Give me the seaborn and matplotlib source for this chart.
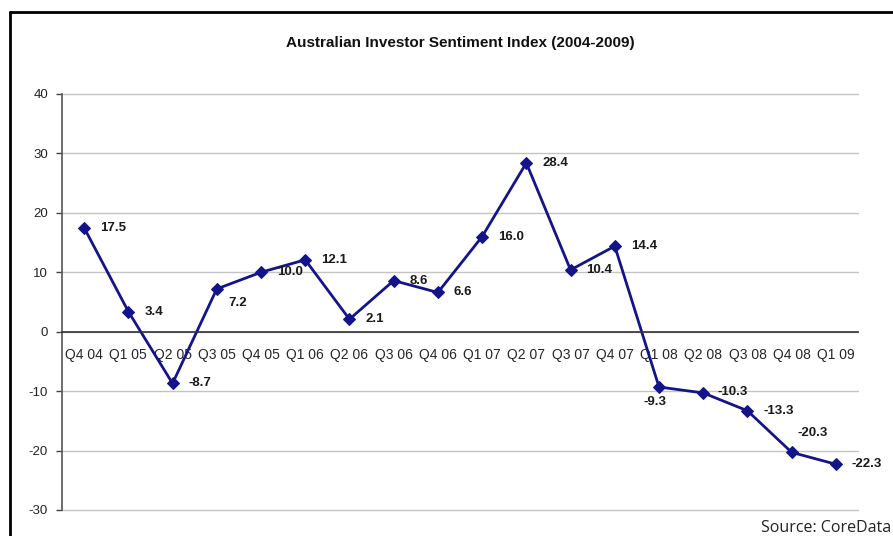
import numpy as np
import pandas as pd
import seaborn as sns
from matplotlib import pyplot as plt
from matplotlib.lines import Line2D

quarters = ['Q4 04', 'Q1 05', 'Q2 05', 'Q3 05', 'Q4 05', 'Q1 06', 'Q2 06', 'Q3 06', 'Q4 06',
            'Q1 07', 'Q2 07', 'Q3 07', 'Q4 07', 'Q1 08', 'Q2 08', 'Q3 08', 'Q4 08', 'Q1 09']
sentiment = [17.5, 3.4, -8.7, 7.2, 10.0, 12.1, 2.1, 8.6, 6.6,
             16.0, 28.4, 10.4, 14.4, -9.3, -10.3, -13.3, -20.3, -22.3]
y_ticks = [-30, -20, -10, 0, 10, 20, 30, 40]

# label offsets in points (most sit to the right of the marker)
label_offsets = {3: (8, -10), 13: (-3, -11), 14: (10.5, 1), 16: (15, 14)}

sns.set_style('white')
plt.rcParams['font.family'] = ['Liberation Sans', 'DejaVu Sans']

df = pd.DataFrame({'quarter': quarters, 'index': sentiment})

fig = plt.figure(figsize=(8.93, 5.36), dpi=100)
ax = fig.add_axes([62/893, 1 - 510/536, (858 - 62)/893, (510 - 94)/536])

line_col = '#14148a'
sns.lineplot(data=df, x='quarter', y='index', ax=ax, color=line_col, linewidth=2,
             marker='D', markersize=6.5, markeredgecolor=line_col, sort=False)

ax.set_xlim(-0.5, len(quarters) - 0.5)
ax.set_ylim(-30, 40)
ax.set_yticks(y_ticks)
ax.set_yticklabels([str(v) for v in y_ticks], fontsize=9.5, color='#222222')
ax.yaxis.grid(True, color='#c4c4c4', linewidth=1)
ax.set_axisbelow(True)
for gl in ax.get_ygridlines():
    gl.set_clip_on(False)

ax.set_xticks(range(len(quarters)))
ax.set_xticklabels(quarters, fontsize=10, color='#222222')
ax.set_xticks(np.arange(-0.5, len(quarters)), minor=True)
ax.tick_params(axis='x', which='major', length=0, pad=12)
ax.tick_params(axis='x', which='minor', length=4, width=1, color='#444444', direction='out')
ax.tick_params(axis='y', length=4, width=1, color='#444444', direction='out', left=True, pad=6)

for s in ['top', 'right']:
    ax.spines[s].set_visible(False)
ax.spines['bottom'].set_position(('data', 0))
ax.spines['bottom'].set_color('#333333')
ax.spines['left'].set_color('#555555')
ax.spines['bottom'].set_linewidth(1.2)
ax.spines['left'].set_linewidth(1.2)
ax.set_xlabel('')
ax.set_ylabel('')

for i, v in enumerate(sentiment):
    dx, dy = label_offsets.get(i, (11.5, 0))
    ha = 'center' if i in (13, 16) else 'left'
    ax.annotate(f'{v:.1f}', (i, v), xytext=(dx, dy), textcoords='offset points',
                ha=ha, va='center', fontsize=9.5, fontweight='bold', color='#1a1a1a')

fig.text(460/893, 1 - 43/536, 'Australian Investor Sentiment Index (2004-2009)',
         ha='center', va='center', fontsize=11, fontweight='bold', color='#111111')
fig.text(0.998, 1 - 528/536, 'Source: CoreData', ha='right', va='center',
         fontsize=11.5, color='#222222', family=['Open Sans', 'DejaVu Sans'])

# frame lines along the top and left of the picture
fig.add_artist(Line2D([10/893, 1], [1 - 12/536, 1 - 12/536], color='black', linewidth=2))
fig.add_artist(Line2D([10/893, 10/893], [0, 1 - 12/536], color='black', linewidth=2))

fig.savefig('out.png', dpi=100)
